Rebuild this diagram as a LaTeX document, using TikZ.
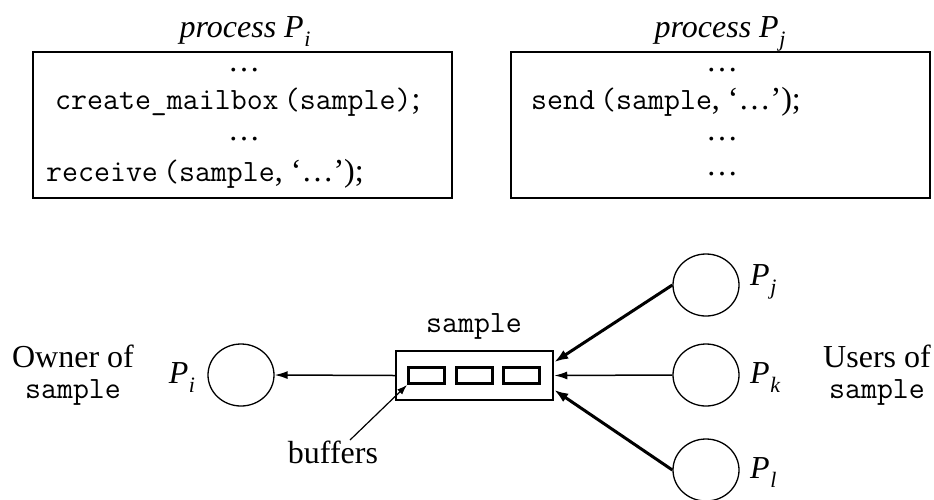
\documentclass[tikz,border=0pt]{standalone}
\usepackage{fontspec}
\setmainfont{Liberation Serif}
\usetikzlibrary{shapes.geometric,arrows.meta,calc}
\newcommand\Pn[1]{\textit{P}\kern0.5pt\raisebox{-0.3em}{\fontsize{22}{22}\selectfont\textit{#1}}}
\newcommand\cd[1]{{\fontsize{31}{33}\selectfont\ttfamily #1}}
\begin{document}
\begin{tikzpicture}[x=1pt,y=-1pt,
  txt/.style={font=\fontsize{32}{38}\selectfont, inner sep=0pt, anchor=base},
  codeline/.style={font=\fontsize{32}{38}\selectfont, inner sep=0pt, anchor=base west},
  codebox/.style={draw, line width=2pt, minimum width=419pt, minimum height=146pt, inner sep=0pt},
  proc/.style={draw, ellipse, line width=1.3pt, minimum width=66pt, minimum height=62pt, inner sep=0pt},
  buf/.style={draw, line width=3pt, minimum width=36pt, minimum height=16pt, inner sep=0pt},
  thinarrow/.style={line width=1.5pt, -{Latex[length=13pt,width=8pt]}},
  thickarrow/.style={line width=3pt, -{Latex[length=14pt,width=10pt]}}
]
\useasboundingbox (0,0) rectangle (934,499);

% titles
\node[txt] (titleI) at (245,37) {\textit{process} \Pn{i}};
\node[txt] (titleJ) at (720,37) {\textit{process} \Pn{j}};

% code boxes
\node[codebox] (boxI) at (242.5,125) {};
\node[codebox] (boxJ) at (720.5,125) {};

\node[txt] (i1) at (244,71) {\ldots};
\node[codeline] (i2) at (55,109) {\cd{create\_mailbox\,(sample)};};
\node[txt] (i3) at (244,140) {\ldots};
\node[codeline] (i4) at (46,181) {\cd{receive\,(sample}, ‘\ldots’);};

\node[txt] (j1) at (722,71) {\ldots};
\node[codeline] (j2) at (531,109) {\cd{send\,(sample}, ‘\ldots’);};
\node[txt] (j3) at (722,140) {\ldots};
\node[txt] (j4) at (722,175) {\ldots};

% mailbox
\node[draw, line width=2.5pt, minimum width=157pt, minimum height=49pt, inner sep=0pt] (mbox) at (474.5,375.5) {};
\node[buf] (buf1) at (426.5,375.5) {};
\node[buf] (buf2) at (474.5,375.5) {};
\node[buf] (buf3) at (521.5,375.5) {};
\node[txt] (mlabel) at (474,332) {\cd{sample}};

% processes
\node[proc] (ci) at (241,375) {};
\node[proc] (cj) at (706,285) {};
\node[proc] (ck) at (706,375) {};
\node[proc] (cl) at (706,470) {};

\node[txt] (li) at (182,383) {\Pn{i}};
\node[txt, anchor=base west] (lj) at (750,285) {\Pn{j}};
\node[txt, anchor=base west] (lk) at (750,383) {\Pn{k}};
\node[txt, anchor=base west] (ll) at (750,478) {\Pn{l}};

% side labels
\node[txt] (ownA) at (73,367) {Owner of};
\node[txt] (ownB) at (73,398) {\cd{sample}};
\node[txt] (useA) at (877,367) {Users of};
\node[txt] (useB) at (877,398) {\cd{sample}};

% buffers label
\node[txt] (bufl) at (333,463) {buffers};
\coordinate (bufstart) at (350,440);

% connectors
\draw[thinarrow] (mbox.west) -- (ci.east);
\draw[thickarrow] (cj.west) -- ($(mbox.north east)!0.24!(mbox.south east)$);
\draw[thinarrow] (ck.west) -- (mbox.east);
\draw[thickarrow] (cl.west) -- ($(mbox.north east)!0.78!(mbox.south east)$);
\draw[line width=1.2pt, -{Latex[length=10pt,width=7pt]}] (bufstart) -- (buf1.south west);
\end{tikzpicture}
\end{document}
